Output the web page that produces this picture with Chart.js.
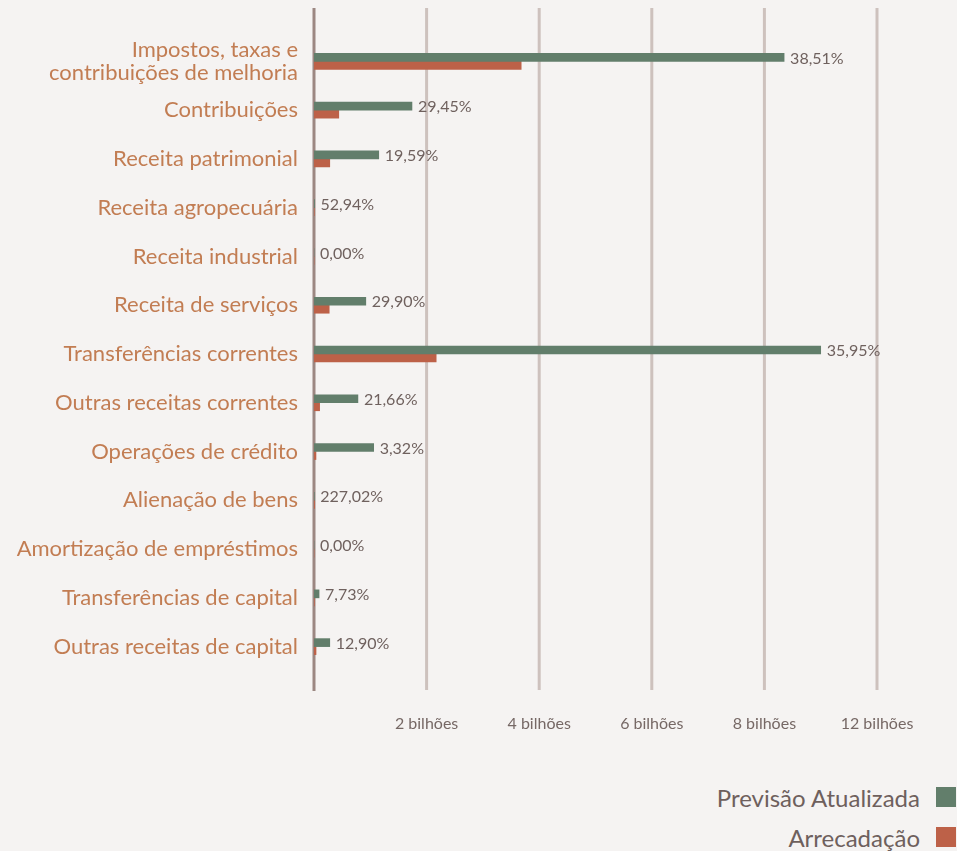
<!DOCTYPE html>
<html>
<head>
<meta charset="utf-8">
<script src="https://cdn.jsdelivr.net/npm/chart.js@4"></script>
<style>
  body { margin: 0; background: #f5f3f2; }
  #wrap { position: relative; width: 957px; height: 760px; }
  #legend { position: absolute; right: 1px; top: 777px; font-family: Lato, sans-serif; font-size: 24px; color: #6e605d; }
  #legend div { display: flex; align-items: center; justify-content: flex-end; height: 40px; }
  #legend span.box { display: inline-block; width: 20px; height: 20px; margin-left: 16px; }
</style>
</head>
<body>
<div id="wrap"><canvas id="chart"></canvas></div>
<div id="legend"></div>
<script>
// categorias
const categories = [
    ['Impostos, taxas e', 'contribuições de melhoria'],
    'Contribuições',
    'Receita patrimonial',
    'Receita agropecuária',
    'Receita industrial',
    'Receita de serviços',
    'Transferências correntes',
    'Outras receitas correntes',
    'Operações de crédito',
    'Alienação de bens',
    'Amortização de empréstimos',
    'Transferências de capital',
    'Outras receitas de capital'
];
// valores em bilhões
const previsao = [8.35, 1.74, 1.15, 0.01, 0, 0.92, 9.0, 0.78, 1.06, 0.005, 0, 0.09, 0.28];
const arrecadacao = [3.68, 0.44, 0.28, 0.005, 0, 0.27, 2.17, 0.1, 0.035, 0.011, 0, 0.007, 0.036];
const percentuais = ['38,51%', '29,45%', '19,59%', '52,94%', '0,00%', '29,90%', '35,95%', '21,66%', '3,32%', '227,02%', '0,00%', '7,73%', '12,90%'];
const tickLabels = ['2 bilhões', '4 bilhões', '6 bilhões', '8 bilhões', '12 bilhões'];

const green = '#627e6b';
const orange = '#bd6148';

// linhas de grade e eixo, mais compridas que a área do gráfico
const gridPlugin = {
    id: 'gridLines',
    beforeDatasetsDraw(chart) {
        const ctx = chart.ctx;
        const x = chart.scales.x;
        ctx.save();
        ctx.lineWidth = 3;
        ctx.strokeStyle = '#cdc1bd';
        [2, 4, 6, 8, 10].forEach(v => {
            const px = x.getPixelForValue(v);
            ctx.beginPath();
            ctx.moveTo(px, 8);
            ctx.lineTo(px, 690);
            ctx.stroke();
        });
        ctx.strokeStyle = '#9c8782';
        const x0 = x.getPixelForValue(0);
        ctx.beginPath();
        ctx.moveTo(x0, 8);
        ctx.lineTo(x0, 691);
        ctx.stroke();
        ctx.restore();
    }
};

// rótulos de percentual ao lado das barras verdes
const labelPlugin = {
    id: 'pctLabels',
    afterDatasetsDraw(chart) {
        const ctx = chart.ctx;
        const meta = chart.getDatasetMeta(0);
        const x0 = chart.scales.x.getPixelForValue(0);
        ctx.save();
        ctx.font = '16px Lato, sans-serif';
        ctx.fillStyle = '#6f615e';
        ctx.textBaseline = 'middle';
        meta.data.forEach((bar, i) => {
            const px = Math.max(bar.x + 6, x0 + 6);
            ctx.fillText(percentuais[i], px, bar.y + 1);
        });
        ctx.restore();
    }
};

const chart = new Chart(document.getElementById('chart'), {
    type: 'bar',
    data: {
        labels: categories,
        datasets: [
            { label: 'Previsão Atualizada', data: previsao, backgroundColor: green, barThickness: 8 },
            { label: 'Arrecadação', data: arrecadacao, backgroundColor: orange, barThickness: 8 }
        ]
    },
    options: {
        indexAxis: 'y',
        responsive: true,
        maintainAspectRatio: false,
        animation: false,
        layout: { padding: { top: 37, right: 80, bottom: 9, left: 0 } },
        plugins: { legend: { display: false }, tooltip: { enabled: false } },
        scales: {
            x: {
                min: 0,
                max: 10,
                ticks: {
                    stepSize: 2,
                    padding: 43,
                    color: '#766865',
                    font: { family: 'Lato', size: 16 },
                    callback: v => v === 0 ? '' : tickLabels[v / 2 - 1]
                },
                grid: { display: false, drawTicks: false },
                border: { display: false },
                afterFit(scale) { scale.height = 80; }
            },
            y: {
                ticks: {
                    autoSkip: false,
                    padding: 16,
                    color: '#c27d53',
                    font: { family: 'Lato', size: 22, lineHeight: 1.05 }
                },
                grid: { display: false, drawTicks: false },
                border: { display: false },
                afterFit(scale) { scale.width = 314; }
            }
        }
    },
    plugins: [gridPlugin, labelPlugin]
});

// legenda
const legend = document.getElementById('legend');
chart.data.datasets.forEach(ds => {
    const row = document.createElement('div');
    row.innerHTML = '<span>' + ds.label + '</span><span class="box" style="background:' + ds.backgroundColor + '"></span>';
    legend.appendChild(row);
});
</script>
</body>
</html>
